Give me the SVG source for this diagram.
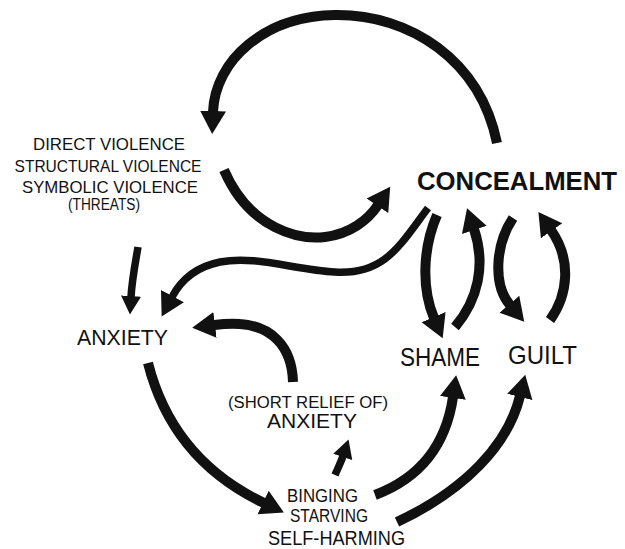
<svg xmlns="http://www.w3.org/2000/svg" width="625" height="549" viewBox="0 0 625 549">
<style>
text{font-family:"Liberation Sans","DejaVu Sans",sans-serif;fill:#111;}
.c{stroke:#111;fill:none;stroke-width:10;stroke-linecap:butt;}
.s{stroke-width:7.5;}
</style>
<defs>
<marker id="ah" markerUnits="userSpaceOnUse" viewBox="0 -15 26 30" markerWidth="26" markerHeight="30" refX="1" refY="0" orient="auto">
<path d="M0,-13 L23,0 L0,13 z" fill="#111"/>
</marker>
<marker id="ahs" markerUnits="userSpaceOnUse" viewBox="0 -15 26 30" markerWidth="22" markerHeight="25" refX="1" refY="0" orient="auto">
<path d="M0,-12 L22,0 L0,12 z" fill="#111"/>
</marker>
</defs>
<rect width="625" height="549" fill="#fff"/>
<g id="connectors">
<path class="c" marker-end="url(#ah)" d="M497,143 C 480,60 410,14 335,15 C 265,16 215,60 213,112"/>
<path class="c" marker-end="url(#ah)" d="M224,170 C 250,230 300,240 325,237 C 350,234 368,220 378,205"/>
<path class="c s" marker-end="url(#ah)" d="M428,208 C 400,245 385,275 335,272 C 295,270 255,255 220,262 C 195,267 180,282 172,297"/>
<path class="c s" marker-end="url(#ahs)" d="M138,247 C 135,265 132,280 131,297"/>
<path class="c" marker-end="url(#ah)" d="M437,215 C 422,250 422,290 434,318"/>
<path class="c" marker-end="url(#ah)" d="M455,327 C 478,300 486,265 474,229"/>
<path class="c" marker-end="url(#ah)" d="M513,218 C 495,245 493,285 510,305"/>
<path class="c" marker-end="url(#ah)" d="M550,320 C 568,295 572,260 551,230"/>
<path class="c" marker-end="url(#ah)" d="M293,382 C 292,345 270,326 240,324 C 230,323 222,324 214,325"/>
<path class="c" marker-end="url(#ah)" d="M148,363 C 165,430 205,475 264,503"/>
<path class="c s" marker-end="url(#ahs)" d="M335,475 C 338,468 341,462 343,456"/>
<path class="c" marker-end="url(#ah)" d="M375,495 C 420,478 446,445 453,397"/>
<path class="c" marker-end="url(#ah)" d="M397,522 C 465,490 508,445 520,396"/>
</g>
<g id="violence">
<text x="109" y="150" font-size="16.5" text-anchor="middle" textLength="152" lengthAdjust="spacingAndGlyphs">DIRECT VIOLENCE</text>
<text x="108" y="172" font-size="16.5" text-anchor="middle" textLength="187" lengthAdjust="spacingAndGlyphs">STRUCTURAL VIOLENCE</text>
<text x="110" y="193" font-size="16.5" text-anchor="middle" textLength="176" lengthAdjust="spacingAndGlyphs">SYMBOLIC VIOLENCE</text>
<text x="104" y="210" font-size="16" text-anchor="middle" textLength="72" lengthAdjust="spacingAndGlyphs">(THREATS)</text>
</g>
<g id="concealment">
<text x="417" y="190" font-size="26" font-weight="bold" textLength="200" lengthAdjust="spacingAndGlyphs">CONCEALMENT</text>
</g>
<g id="anxiety">
<text x="77" y="345" font-size="22" textLength="91" lengthAdjust="spacingAndGlyphs">ANXIETY</text>
</g>
<g id="shame">
<text x="400" y="366" font-size="26" textLength="80" lengthAdjust="spacingAndGlyphs">SHAME</text>
</g>
<g id="guilt">
<text x="508" y="364" font-size="26" textLength="69" lengthAdjust="spacingAndGlyphs">GUILT</text>
</g>
<g id="relief">
<text x="228" y="408" font-size="16" textLength="160" lengthAdjust="spacingAndGlyphs">(SHORT RELIEF OF)</text>
<text x="267" y="428" font-size="20" textLength="90" lengthAdjust="spacingAndGlyphs">ANXIETY</text>
</g>
<g id="behaviours">
<text x="287" y="502" font-size="19" textLength="71" lengthAdjust="spacingAndGlyphs">BINGING</text>
<text x="290" y="522" font-size="19" textLength="78" lengthAdjust="spacingAndGlyphs">STARVING</text>
<text x="268" y="545" font-size="20" textLength="137" lengthAdjust="spacingAndGlyphs">SELF-HARMING</text>
</g>
</svg>
